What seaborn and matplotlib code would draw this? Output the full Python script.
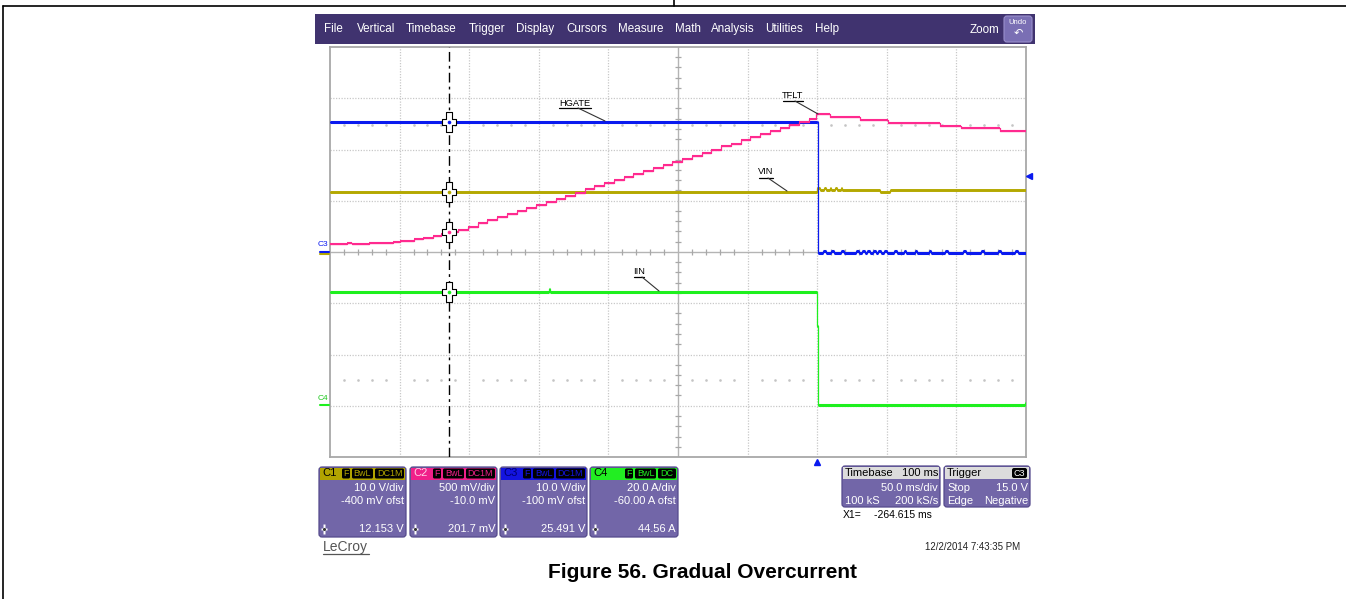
import numpy as np
import matplotlib
matplotlib.use("Agg")
import matplotlib.pyplot as plt
from matplotlib.patches import Rectangle, FancyBboxPatch
from matplotlib.path import Path
import seaborn as sns

# ---------------- channel setup (readouts) ----------------
ch_ids = ["C1", "C2", "C3", "C4"]
ch_scale = [10.0, 500.0, 10.0, 20.0]      # per division: V, mV, V, A
ch_offset = [-0.4, -10.0, -0.1, -60.0]    # V, mV, V, A
scale_text = ["10.0 V/div", "500 mV/div", "10.0 V/div", "20.0 A/div"]
offset_text = ["-400 mV ofst", "-10.0 mV", "-100 mV ofst", "-60.00 A ofst"]
cursor_text = ["12.153 V", "201.7 mV", "25.491 V", "44.56 A"]
cursor_vals = [12.153, 201.7, 25.491, 44.56]
cursor_time = -264.615                    # ms

# time axis: 50 ms/div, 10 divisions, trigger at 0 ms
t_start, t_stop = -350.0, 150.0

# ---------------- traces ----------------
# C1 VIN (V)
vin_t = [-350, 0, 2, 5, 6, 9, 10, 13, 14, 17, 18, 45, 52, 150]
vin_v = [12.153, 12.85, 12.5, 12.85, 12.5, 12.8, 12.5, 12.8, 12.5, 12.8, 12.5, 12.15, 12.5, 12.5]

# C2 TFLT (mV)
tflt_t = [-350, -338, -334, -322, -318, -305, -300, -290, -283, -276, -270, -264.6,
          -258, -251, -244, -237, -230, -223, -216, -209, -202, -195,
          -188, -181, -174, -167, -160, -153, -146, -139, -132, -125,
          -118, -111, -104, -97, -90, -83, -76, -69, -62, -55,
          -48, -41, -34, -27, -20, -13, -6, -1,
          9, 31, 51, 88, 103, 131, 150]
tflt_v = [88, 95, 88, 102, 96, 112, 120, 132, 150, 168, 185, 202,
          225, 258, 290, 318, 350, 380, 410, 440, 470, 498,
          530, 560, 590, 622, 650, 680, 712, 740, 770, 800,
          830, 860, 890, 918, 950, 978, 1008, 1040, 1068, 1098,
          1128, 1158, 1188, 1218, 1248, 1278, 1310, 1352,
          1327, 1298, 1268, 1239, 1220, 1190, 1190]

# C3 HGATE (V)
hg_t = [-350, 0, 0.5, 4, 6, 10, 12, 17, 19, 28, 30, 32, 34, 36, 38, 40, 42, 44, 46,
        48, 50, 55, 57, 62, 64, 70, 72, 80, 82, 92, 94, 105, 107, 118, 120, 130, 132,
        142, 144, 150]
hg_v = [25.491, 25.491, 0.0, 0.25, 0.0, 0.25, 0.0, 0.25, 0.0, 0.25, 0.0, 0.25, 0.0, 0.25, 0.0, 0.25, 0.0, 0.25, 0.0,
        0.25, 0.0, 0.25, 0.0, 0.25, 0.0, 0.25, 0.0, 0.25, 0.0, 0.25, 0.0, 0.25, 0.0, 0.25, 0.0, 0.25, 0.0,
        0.25, 0.0, 0.0]

# C4 IIN (A)
iin_t = [-350, -193, -192, 0, 0.4, 149, 150]
iin_v = [44.56, 45.6, 44.56, 31.0, 0.3, 1.0, 1.0]

trace_labels = ["VIN", "TFLT", "HGATE", "IIN"]
trace_colors = ["#b4a800", "#ff2a8f", "#0a1aef", "#1ef01e"]
trace_widths = [2.1, 1.5, 2.2, 2.2]

menu_items = ["File", "Vertical", "Timebase", "Trigger", "Display", "Cursors",
              "Measure", "Math", "Analysis", "Utilities", "Help"]


def to_div(vals, ch):
    return (np.asarray(vals, dtype=float) + ch_offset[ch]) / ch_scale[ch]


sns.set_theme(style="white")
plt.rcParams["font.family"] = ["Liberation Sans", "DejaVu Sans"]

W, H = 1346, 599
fig = plt.figure(figsize=(W / 100, H / 100), dpi=100)
fig.patch.set_facecolor("white")


def px_rect(x0, y0, x1, y1):
    return [x0 / W, 1 - y1 / H, (x1 - x0) / W, (y1 - y0) / H]


# ---------------- scope display ----------------
sc = fig.add_axes(px_rect(330, 47, 1026, 457), zorder=2)
sc.set_xlim(t_start, t_stop)
sc.set_ylim(-4, 4)
sc.set_xticks([])
sc.set_yticks([])
sc.set_facecolor("white")
for s in sc.spines.values():
    s.set_color("#a8a8a8")
    s.set_linewidth(1.3)

t_center = (t_start + t_stop) / 2
for k in range(1, 10):
    t = t_start + 50 * k
    if t == t_center:
        sc.axvline(t, color="#b4b4b4", lw=1.0, zorder=1)
    else:
        sc.axvline(t, color="#c8c8c8", lw=0.9, ls=(0, (1, 1.2)), zorder=1)
for d in range(-3, 4):
    if d == 0:
        sc.axhline(d, color="#b4b4b4", lw=1.0, zorder=1)
    else:
        sc.axhline(d, color="#c8c8c8", lw=0.9, ls=(0, (1, 1.2)), zorder=1)

minor_t = [t for t in np.arange(t_start + 10, t_stop, 10) if abs(t % 50) > 1e-6]
minor_d = [d for d in np.arange(-3.8, 4.0, 0.2) if abs(d - round(d)) > 1e-6]
sc.vlines(minor_t, -0.06, 0.06, color="#a8a8a8", lw=0.9, zorder=1)
sc.hlines(minor_d, t_center - 2.2, t_center + 2.2, color="#a8a8a8", lw=0.9, zorder=1)
for row in (2.48, -2.5):
    sc.plot(minor_t, [row] * len(minor_t), ls="none", marker="s", ms=0.8,
            color="#c4c4c4", zorder=1)

series = [(vin_t, vin_v), (tflt_t, tflt_v), (hg_t, hg_v), (iin_t, iin_v)]
draw_order = [0, 2, 3, 1]
for i in draw_order:
    tt, vv = series[i]
    yd = to_div(vv, i)
    # thin risers between levels
    sns.lineplot(x=tt, y=yd, ax=sc, color=trace_colors[i], linewidth=0.9,
                 drawstyle="steps-post", estimator=None, sort=False,
                 legend=False, zorder=3)
    # thick horizontal levels
    sc.hlines(yd[:-1], tt[:-1], tt[1:], color=trace_colors[i],
              linewidth=trace_widths[i], zorder=3, capstyle="butt")

# cursor
sc.axvline(cursor_time, color="black", lw=1.0, ls=(0, (7, 3, 2, 3)), zorder=4)
ah, av, hw = 0.72, 1.0, 0.26
cross = Path([(-hw, av), (hw, av), (hw, hw), (ah, hw), (ah, -hw), (hw, -hw), (hw, -av),
              (-hw, -av), (-hw, -hw), (-ah, -hw), (-ah, hw), (-hw, hw), (-hw, av)],
             closed=True)
for i in range(4):
    yd = to_div([cursor_vals[i]], i)[0]
    sc.plot([cursor_time], [yd], marker=cross, ms=15, mfc="white", mec="black",
            mew=0.8, ls="none", zorder=5)
    sc.plot([cursor_time], [yd], marker="o", ms=2.6, color=trace_colors[i],
            mec="none", ls="none", zorder=6)

# ---------------- surrounding interface ----------------
ui = fig.add_axes([0, 0, 1, 1], zorder=3)
ui.set_xlim(0, W)
ui.set_ylim(H, 0)
ui.axis("off")
ui.patch.set_alpha(0)

# page frame
ui.plot([3, W], [6, 6], color="black", lw=1.2)
ui.plot([3, 3], [6, H], color="black", lw=1.2)
ui.plot([674, 674], [0, 6], color="black", lw=1.2)

# menu bar
ui.add_patch(Rectangle((315, 14), 720, 30, fc="#40336f", ec="none"))
menu_x = [324, 357, 406, 469, 516, 566, 618, 675, 711, 765, 815]
for name, x in zip(menu_items, menu_x):
    ui.text(x, 29, name, color="white", fontsize=8.4, ha="left", va="center")
ui.text(999, 30, "Zoom", color="white", fontsize=8.4, ha="right", va="center")
ui.add_patch(FancyBboxPatch((1004, 16), 28, 26, boxstyle="round,pad=0,rounding_size=3",
                            fc="#7a6fb4", ec="#9a90cc", lw=0.8))
ui.text(1018, 23, "Undo", color="white", fontsize=5.5, ha="center", va="center")
ui.text(1018, 33, "\u21b6", color="white", fontsize=8, ha="center", va="center",
        family=["DejaVu Sans"])

# trace annotations with leader lines
annots = [("HGATE", 559, 591, 103, 108, (578, 108), (605, 121)),
          ("TFLT", 783, 803, 95, 100.5, (795, 101), (818, 114)),
          ("VIN", 759, 773, 172, 177.5, (768, 178), (787, 191)),
          ("IIN", 634, 644, 271.5, 276.5, (642, 277), (659, 291))]
for txt, xa, xb, yt, yu, p0, p1 in annots:
    ui.text((xa + xb) / 2, yt, txt, fontsize=6.7, ha="center", va="center", color="black")
    ui.plot([xa, xb], [yu, yu], color="black", lw=0.9)
    ui.plot([p0[0], p1[0]], [p0[1], p1[1]], color="#333333", lw=0.8)

# ground markers
ui.text(323, 245, "C3", fontsize=6, color="#0a1aef", ha="center", va="center")
ui.plot([320, 329], [253.5, 253.5], color="#b4a800", lw=1.5)
ui.plot([320, 329], [251.5, 251.5], color="#0a1aef", lw=1.5)
ui.text(323, 399, "C4", fontsize=6, color="#1ec81e", ha="center", va="center")
ui.plot([320, 329], [405, 405], color="#1ef01e", lw=1.5)

# trigger markers
ui.plot([1029], [176], marker="<", ms=5, color="#0a1aef", ls="none")
ui.plot([817], [461.5], marker="^", ms=5, color="#0a1aef", ls="none")

# channel descriptor boxes
box_x = [(319, 406), (410, 497), (500, 587), (590, 678)]
head_colors = ["#b2a400", "#f0208a", "#1414e0", "#22ee22"]
label_colors = ["black", "#ffd0e6", "#000070", "black"]
badge_sets = [["F", "BwL", "DC1M"], ["F", "BwL", "DC1M"], ["F", "BwL", "DC1M"], ["F", "BwL", "DC"]]
badge_w = {"F": 8, "BwL": 21, "DC1M": 29, "DC": 18}
body_color = "#7266a8"
for i, (x0, x1) in enumerate(box_x):
    ui.add_patch(FancyBboxPatch((x0, 467), x1 - x0, 70, boxstyle="round,pad=0,rounding_size=3",
                                fc=body_color, ec="#554a8c", lw=0.9))
    ui.add_patch(Rectangle((x0 + 1, 467.5), x1 - x0 - 2, 12, fc=head_colors[i], ec="none"))
    ui.text(x0 + 3, 473.5, ch_ids[i], fontsize=8, color=label_colors[i], ha="left", va="center")
    xr = x1 - 2
    for b in reversed(badge_sets[i]):
        w = badge_w[b]
        ui.add_patch(FancyBboxPatch((xr - w, 468.5), w, 10, boxstyle="round,pad=0,rounding_size=1.5",
                                    fc="black", ec="none"))
        ui.text(xr - w / 2, 473.5, b, fontsize=6.5, color=head_colors[i], ha="center", va="center")
        xr -= w + 2
    ui.text(x1 - 2, 488, scale_text[i], fontsize=8, color="white", ha="right", va="center")
    ui.text(x1 - 2, 500.5, offset_text[i], fontsize=8, color="white", ha="right", va="center")
    ui.text(x1 - 2, 529, cursor_text[i], fontsize=8, color="white", ha="right", va="center")
    ui.plot([x0 + 5], [529], marker=cross, ms=7, mfc="white", mec="none", ls="none")
    ui.plot([x0 + 5], [529], marker="o", ms=1.2, color="#333333", ls="none")

# timebase / trigger boxes
for (x0, x1) in [(842, 940), (944, 1030)]:
    ui.add_patch(FancyBboxPatch((x0, 466), x1 - x0, 41, boxstyle="round,pad=0,rounding_size=3",
                                fc=body_color, ec="#554a8c", lw=0.9))
    ui.add_patch(Rectangle((x0 + 1, 466.5), x1 - x0 - 2, 12.5, fc="#dcdcdc", ec="none"))
ui.text(845, 473, "Timebase", fontsize=8, color="black", ha="left", va="center")
ui.text(938, 473, "100 ms", fontsize=8, color="black", ha="right", va="center")
ui.text(938, 488, "50.0 ms/div", fontsize=8, color="white", ha="right", va="center")
ui.text(845, 500.5, "100 kS", fontsize=8, color="white", ha="left", va="center")
ui.text(938, 500.5, "200 kS/s", fontsize=8, color="white", ha="right", va="center")
ui.text(947, 473, "Trigger", fontsize=8, color="black", ha="left", va="center")
ui.add_patch(FancyBboxPatch((1012, 468), 15, 10, boxstyle="round,pad=0,rounding_size=2",
                            fc="black", ec="none"))
ui.text(1019.5, 473, "C3", fontsize=6.5, color="white", ha="center", va="center")
ui.text(947, 488, "Stop", fontsize=8, color="white", ha="left", va="center")
ui.text(1028, 488, "15.0 V", fontsize=8, color="white", ha="right", va="center")
ui.text(947, 500.5, "Edge", fontsize=8, color="white", ha="left", va="center")
ui.text(1028, 500.5, "Negative", fontsize=8, color="white", ha="right", va="center")
ui.text(843, 515, "X1=", fontsize=7.5, color="black", ha="left", va="center")
ui.text(932, 515, "%.3f ms" % cursor_time, fontsize=7.5, color="black", ha="right", va="center")

# footer
ui.text(323, 547, "LeCroy", fontsize=10, color="#555555", ha="left", va="center")
ui.plot([323, 369], [553.5, 553.5], color="#555555", lw=0.9)
ui.text(1020, 547, "12/2/2014 7:43:35 PM", fontsize=7, color="#222222", ha="right", va="center")
ui.text(702, 573, "Figure 56. Gradual Overcurrent", fontsize=15, fontweight="bold",
        color="black", ha="center", va="center")

fig.savefig("out.png", dpi=100, facecolor="white")
